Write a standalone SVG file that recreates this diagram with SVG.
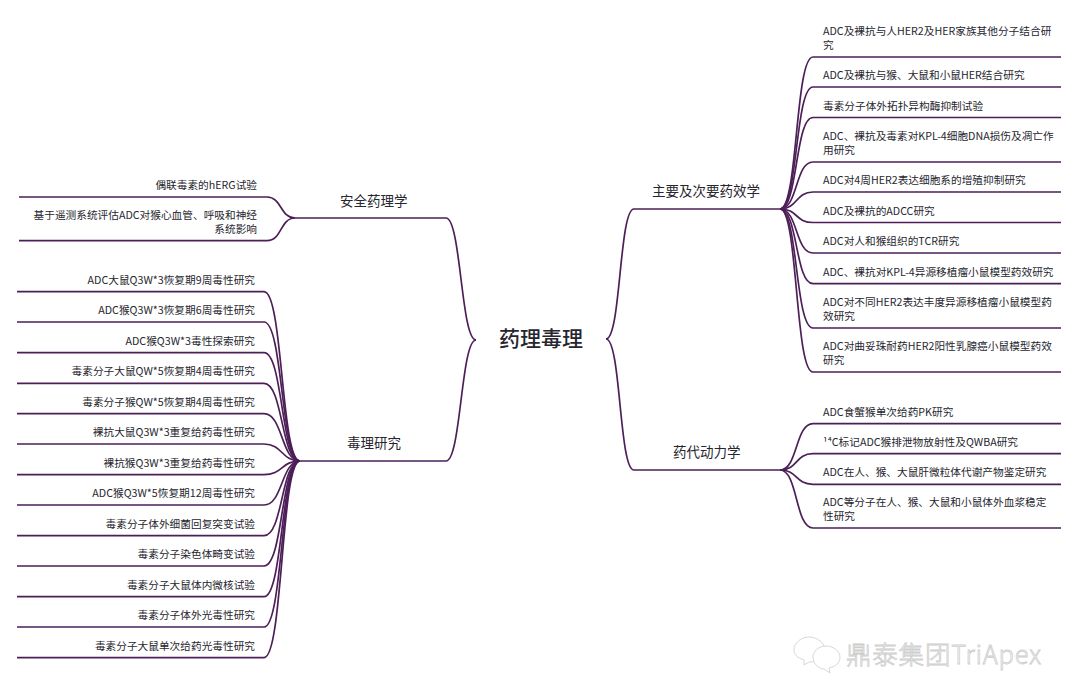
<svg xmlns="http://www.w3.org/2000/svg" width="1080" height="682" viewBox="0 0 1080 682">
<style>
text{font-family:"Noto Sans CJK SC","Noto Sans",sans-serif;fill:#26262e}
.leaf{font-size:10.68px}
.end{text-anchor:end}
.branch{font-size:13.5px}
.root{font-size:21px;font-weight:500}
#connectors path{fill:none;stroke:#4d1f58;stroke-width:1.7}
#watermark *{fill:#fff;stroke:#cdcdcd;stroke-width:.8}
#watermark text{font-size:25.500px;font-weight:300;letter-spacing:.8px}
</style>
<rect width="1080" height="682" fill="#fff"/>
<g id="connectors">
<path d="M606 339C621 339 619 209 634 209H780"/>
<path d="M606 339C621 339 619 470 634 470H780"/>
<path d="M476 340C461 340 461 218 446 218H295"/>
<path d="M476 340C461 340 461 461 446 461H300"/>
<path d="M780 209C798 209 795 57 813 57H1061"/>
<path d="M780 209C798 209 795 87 813 87H1061"/>
<path d="M780 209C798 209 795 117.500 813 117.500H1061"/>
<path d="M780 209C798 209 795 162 813 162H1061"/>
<path d="M780 209C798 209 795 192 813 192H1061"/>
<path d="M780 209C798 209 795 222.500 813 222.500H1061"/>
<path d="M780 209C798 209 795 253 813 253H1061"/>
<path d="M780 209C798 209 795 283.700 813 283.700H1061"/>
<path d="M780 209C798 209 795 328 813 328H1061"/>
<path d="M780 209C798 209 795 372 813 372H1061"/>
<path d="M780 470C798 470 795 423.700 813 423.700H1061"/>
<path d="M780 470C798 470 795 453.700 813 453.700H1061"/>
<path d="M780 470C798 470 795 484.300 813 484.300H1061"/>
<path d="M780 470C798 470 795 528 813 528H1061"/>
<path d="M295 218C280 218 282 197 267 197H19"/>
<path d="M295 218C280 218 282 240.700 267 240.700H19"/>
<path d="M300 461C281 461 283 291.700 264 291.700H17"/>
<path d="M300 461C281 461 283 322 264 322H17"/>
<path d="M300 461C281 461 283 352.700 264 352.700H17"/>
<path d="M300 461C281 461 283 383.300 264 383.300H17"/>
<path d="M300 461C281 461 283 413.700 264 413.700H17"/>
<path d="M300 461C281 461 283 444 264 444H17"/>
<path d="M300 461C281 461 283 474.700 264 474.700H17"/>
<path d="M300 461C281 461 283 505 264 505H17"/>
<path d="M300 461C281 461 283 535.700 264 535.700H17"/>
<path d="M300 461C281 461 283 566 264 566H17"/>
<path d="M300 461C281 461 283 596.700 264 596.700H17"/>
<path d="M300 461C281 461 283 627 264 627H17"/>
<path d="M300 461C281 461 283 657.700 264 657.700H17"/>
</g>
<g id="root"><text class="root" x="499" y="346">药理毒理</text></g>
<g id="b-pd"><text class="branch" x="652" y="196">主要及次要药效学</text></g>
<g id="b-pk"><text class="branch" x="673" y="457">药代动力学</text></g>
<g id="b-safety"><text class="branch" x="340" y="205.500">安全药理学</text></g>
<g id="b-tox"><text class="branch" x="347" y="448">毒理研究</text></g>
<g id="pd1"><text class="leaf" x="823" y="35">ADC及裸抗与人HER2及HER家族其他分子结合研<tspan x="823" y="49">究</tspan></text></g>
<g id="pd2"><text class="leaf" x="823" y="79">ADC及裸抗与猴、大鼠和小鼠HER结合研究</text></g>
<g id="pd3"><text class="leaf" x="823" y="109.500">毒素分子体外拓扑异构酶抑制试验</text></g>
<g id="pd4"><text class="leaf" x="823" y="140">ADC、裸抗及毒素对KPL-4细胞DNA损伤及凋亡作<tspan x="823" y="154">用研究</tspan></text></g>
<g id="pd5"><text class="leaf" x="823" y="184">ADC对4周HER2表达细胞系的增殖抑制研究</text></g>
<g id="pd6"><text class="leaf" x="823" y="214.500">ADC及裸抗的ADCC研究</text></g>
<g id="pd7"><text class="leaf" x="823" y="245">ADC对人和猴组织的TCR研究</text></g>
<g id="pd8"><text class="leaf" x="823" y="275.700">ADC、裸抗对KPL-4异源移植瘤小鼠模型药效研究</text></g>
<g id="pd9"><text class="leaf" x="823" y="306">ADC对不同HER2表达丰度异源移植瘤小鼠模型药<tspan x="823" y="320">效研究</tspan></text></g>
<g id="pd10"><text class="leaf" x="823" y="350">ADC对曲妥珠耐药HER2阳性乳腺癌小鼠模型药效<tspan x="823" y="364">研究</tspan></text></g>
<g id="pk1"><text class="leaf" x="823" y="415.700">ADC食蟹猴单次给药PK研究</text></g>
<g id="pk2"><text class="leaf" x="823" y="445.700">¹⁴C标记ADC猴排泄物放射性及QWBA研究</text></g>
<g id="pk3"><text class="leaf" x="823" y="476.300">ADC在人、猴、大鼠肝微粒体代谢产物鉴定研究</text></g>
<g id="pk4"><text class="leaf" x="823" y="506">ADC等分子在人、猴、大鼠和小鼠体外血浆稳定<tspan x="823" y="520">性研究</tspan></text></g>
<g id="s1"><text class="leaf end" x="257" y="189">偶联毒素的hERG试验</text></g>
<g id="s2"><text class="leaf end" x="257" y="219">基于遥测系统评估ADC对猴心血管、呼吸和神经<tspan x="257" y="233">系统影响</tspan></text></g>
<g id="t1"><text class="leaf end" x="255" y="283.700">ADC大鼠Q3W*3恢复期9周毒性研究</text></g>
<g id="t2"><text class="leaf end" x="255" y="314">ADC猴Q3W*3恢复期6周毒性研究</text></g>
<g id="t3"><text class="leaf end" x="255" y="344.700">ADC猴Q3W*3毒性探索研究</text></g>
<g id="t4"><text class="leaf end" x="255" y="375.300">毒素分子大鼠QW*5恢复期4周毒性研究</text></g>
<g id="t5"><text class="leaf end" x="255" y="405.700">毒素分子猴QW*5恢复期4周毒性研究</text></g>
<g id="t6"><text class="leaf end" x="255" y="436">裸抗大鼠Q3W*3重复给药毒性研究</text></g>
<g id="t7"><text class="leaf end" x="255" y="466.700">裸抗猴Q3W*3重复给药毒性研究</text></g>
<g id="t8"><text class="leaf end" x="255" y="497">ADC猴Q3W*5恢复期12周毒性研究</text></g>
<g id="t9"><text class="leaf end" x="255" y="527.700">毒素分子体外细菌回复突变试验</text></g>
<g id="t10"><text class="leaf end" x="255" y="558">毒素分子染色体畸变试验</text></g>
<g id="t11"><text class="leaf end" x="255" y="588.700">毒素分子大鼠体内微核试验</text></g>
<g id="t12"><text class="leaf end" x="255" y="619">毒素分子体外光毒性研究</text></g>
<g id="t13"><text class="leaf end" x="255" y="649.700">毒素分子大鼠单次给药光毒性研究</text></g>
<g id="watermark">
<path d="M794 650c0-7 7-13 15-13s16 6 16 13c0 7-7 12-16 12l-5 3 0-5c-6-2-10-5-10-10z"/>
<path d="M813 657c0-6 6-11 13-11s14 5 14 11c0 6-5 10-11 11l1 5-6-4c-6 0-11-6-11-12z"/>
<text x="846" y="664">鼎泰集团TriApex</text>
</g>
</svg>
